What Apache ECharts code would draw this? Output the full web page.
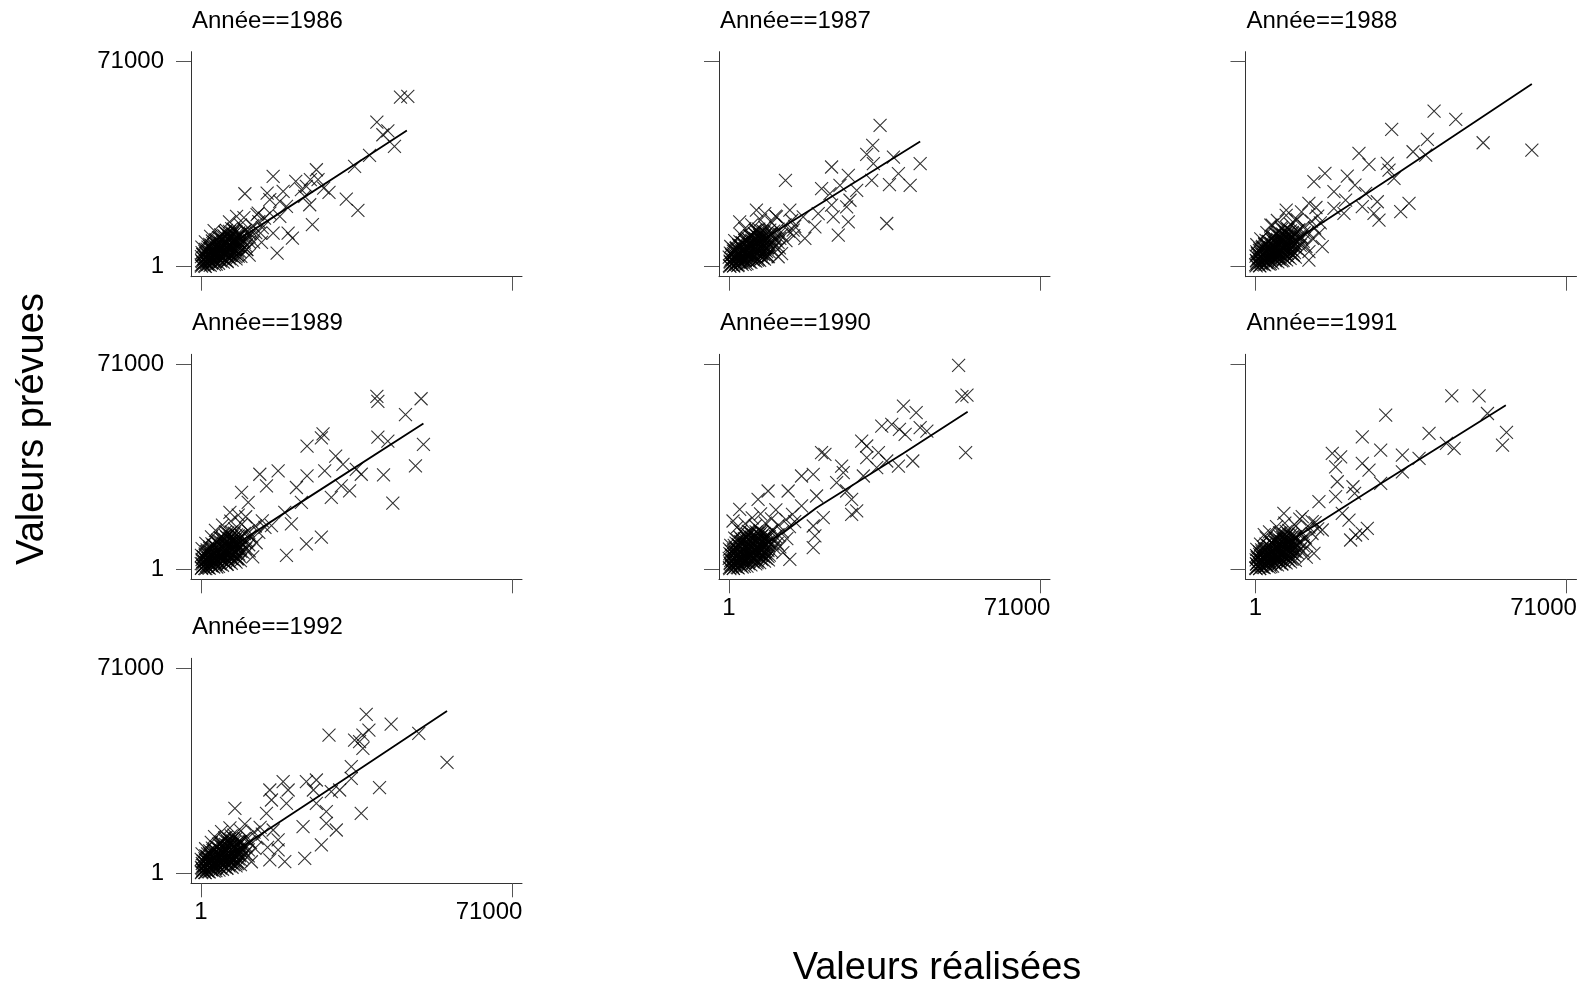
<!DOCTYPE html>
<html><head><meta charset="utf-8">
<script src="https://cdn.jsdelivr.net/npm/echarts@6/dist/echarts.min.js"></script>
<style>html,body{margin:0;padding:0;background:#fff}#c{width:1586px;height:992px}</style>
</head><body><div id="c"></div>
<script>
// ---------- data ----------
const years = [1986, 1987, 1988, 1989, 1990, 1991, 1992];
const tickValues = [1, 71000];
const tickLabels = ['1', '71000'];
const xTitle = 'Valeurs réalisées';
const yTitle = 'Valeurs prévues';

const pts1986 = [
[50,600],[150,2100],[100,3500],[250,4900],[1000,150],[1100,1700],[900,3100],[1200,4600],[1000,6000],[2100,500],[1900,1900],[2200,3400],[1800,4900],[2100,6300],[2000,7700],[3100,700],[2900,2300],[3200,3900],[2800,5300],[3100,6900],[3000,8400],[4000,1200],[4200,2700],[3900,4100],[4100,5700],[3800,7200],[4200,8700],[4000,10100],[5100,1600],[4900,3000],[5200,4600],[4800,6200],[5100,7700],[4900,9300],[5200,10800],[6000,1800],[6200,3400],[5800,5000],[6100,6500],[5900,8000],[6200,9600],[6000,11200],[5800,12600],[7100,2300],[6900,3800],[7200,5400],[6800,7000],[7100,8500],[6900,10100],[7200,11600],[7000,13200],[8000,2700],[8200,4200],[7800,5900],[8100,7500],[7900,9000],[8200,10500],[8000,12100],[9100,3600],[8900,5200],[9200,6700],[8800,8300],[9100,9800],[9000,11400],
[100,200],[400,900],[800,300],[300,1800],[1200,1400],[700,2600],[1600,700],[2000,2200],[1100,3300],[500,4200],[2400,1200],[1700,3800],[2800,2900],[900,5200],[3200,1800],[2300,4900],[3600,3600],[1400,6100],[4100,2500],[3000,5600],[4500,4300],[2000,7000],[5000,3200],[3800,6400],[5400,5000],[200,6800],[2700,8000],[5900,2000],[4700,7300],[6300,5900],[1000,8600],[3500,9000],[6800,4000],[5600,8100],[7200,6700],[4300,10000],[7700,8900],[2200,10500],[6400,10200],[8400,7200],
[8800,11000],[9600,9000],[10200,12600],[11000,10400],[11800,14200],[12500,11800],[13200,15600],[14000,13500],[9000,14500],[7500,13000],[5500,12000],[10500,6000],[12000,8500],[8000,3500],[3000,12500],[6500,15500],[9800,17000],[12800,18000],[14500,16800],[11000,4000],
[45540,58740],[47210,58970],[40150,50080],[42660,47080],[41520,45700],[44170,41660],[38480,38540],[35070,34730],[26340,33580],[24970,30120],[21630,29540],[24060,27810],[22920,26660],[16470,31270],[10020,25270],[15100,25500],[15710,23200],[18750,26080],[29220,25730],[28010,27230],[33170,23430],[35820,19500],[24820,21460],[25430,14540],[17990,22620],[20870,9920],[19890,11650],[17380,4730],[16470,11650],[17990,17430],[13590,11650],[13810,8420],[13060,18580],[11160,12810],[8120,17430],[15710,18580],[19510,20890],[23680,24350],[26720,30120],[10400,5890]
];
const dense1986 = [
[500,1300],[600,2800],[400,4200],[1500,900],[1600,2400],[1400,3900],[1500,5300],[1600,6800],[2500,1500],[2400,3000],[2600,4500],[2500,6000],[2400,7400],[2600,8900],[3500,900],[3600,2500],[3400,4900],[3500,6400],[3600,7900],[3400,9400],[4500,1900],[4400,3500],[4600,5000],[4500,6600],[4400,8100],[4600,9600],[4500,11000],[5500,2400],[5600,4000],[5400,5700],[5500,7200],[5600,8800],[5400,10300],[5500,11800],[6500,2800],[6400,4500],[6600,6100],[6500,7600],[6400,9100],[6600,10700],[6500,12200],[7500,3300],[7600,4900],[7400,6500],[7500,8000],[7600,9600],[7400,11100],[7500,12600],[8500,3700],[8400,5400],[8600,7000],[8500,8600],[8400,10100],[8600,11700],[9700,6000],[9900,8500],[10300,7200],[10500,10000],[11000,8600],[11200,11500],[10000,12500]
];
const fit1986 = [[600,1600],[15000,15700],[35000,35300],[47000,47200]];

const pts1987 = [
[100,400],[250,1900],[50,3300],[300,4700],[1100,250],[950,1600],[1200,3000],[1000,4500],[1150,5900],[2000,400],[2200,1800],[1900,3300],[2100,4800],[1800,6200],[2200,7600],[3000,800],[3200,2200],[2900,3700],[3100,5200],[2800,6700],[3200,8200],[4100,1100],[3900,2600],[4200,4000],[4000,5500],[4100,7000],[3900,8500],[4200,9900],[5000,1500],[5200,3000],[4800,4500],[5100,6000],[4900,7500],[5200,9100],[5000,10600],[6100,1900],[5900,3500],[6200,5100],[6000,6600],[5800,8100],[6100,9700],[5900,11300],[6200,12700],[7000,2200],[7200,3700],[6800,5300],[7100,6800],[6900,8400],[7200,10000],[7000,11500],[6800,13000],[8100,2600],[7900,4300],[8200,5800],[8000,7400],[7800,8900],[8100,10400],[8000,12000],[9000,3500],[9200,5100],[8800,6600],[9100,8200],[8900,9700],[9200,11300],
[200,100],[600,800],[1000,300],[300,1600],[1500,1200],[900,2500],[2100,600],[2300,2100],[1300,3400],[600,4300],[2900,1500],[1900,4000],[3100,3000],[1000,5400],[3700,2200],[2600,5000],[4000,3800],[1600,6300],[4600,2800],[3300,5800],[5000,4600],[2300,7200],[5600,3300],[4100,6700],[6000,5300],[400,7000],[3000,8300],[6500,2300],[5100,7600],[6900,6200],[1300,9000],[4000,9400],[7400,4400],[6100,8500],[7900,7000],[4800,10600],[8500,9200],[2700,11000],[7000,10800],[9200,7600],
[9700,11500],[10500,9500],[11200,13000],[12000,11000],[12800,14500],[13600,12300],[14300,16000],[9800,15200],[8200,13600],[6000,12600],[11500,6500],[13000,9000],[8800,3800],[3600,13200],[7200,16200],[10600,17500],[15000,14000],[12000,4500],[5200,14500],[14800,10800],
[34490,48920],[32810,42010],[31440,38900],[43640,35680],[37540,37980],[32960,35680],[23420,34530],[12890,29930],[27240,31650],[38680,32230],[36630,28430],[41360,28200],[32580,29930],[36010,14960],[21140,27050],[23040,25320],[25330,28200],[27620,23020],[26860,20720],[23420,21290],[23800,17270],[27240,15540],[24950,10930],[19610,13810],[17320,9780],[16940,17270],[20370,18420],[13890,19570],[10830,17270],[8160,18420],[6260,19570],[2440,15540],[11600,9780],[11220,3450],[14650,12660],[29150,26470],[9310,12660]
];
const dense1987 = [
[700,1100],[500,2600],[600,4000],[1700,800],[1500,2200],[1600,3700],[1400,5200],[1700,6600],[2700,1300],[2600,2800],[2500,4300],[2700,5800],[2600,7300],[2500,8700],[3700,800],[3500,2400],[3600,4700],[3700,6200],[3500,7700],[3600,9200],[4700,1700],[4600,3300],[4500,4800],[4700,6400],[4600,7900],[4500,9400],[4700,10800],[5700,2200],[5500,3800],[5600,5500],[5700,7000],[5500,8600],[5600,10100],[5700,11600],[6700,2600],[6600,4300],[6500,5900],[6700,7400],[6600,8900],[6500,10500],[6700,12000],[7700,3100],[7500,4700],[7600,6300],[7700,7800],[7500,9400],[7600,10900],[7700,12400],[8700,3500],[8600,5200],[8500,6800],[8700,8400],[8600,9900],[8500,11500],[9900,5800],[10100,8300],[10500,7000],[10700,9800],[11200,8400],[11400,11300],[10200,12300]
];
const fit1987 = [[500,2500],[12400,13800],[43640,43390]];

const pts1988 = [
[50,700],[200,2200],[100,3700],[300,5100],[1000,300],[1200,1800],[900,3300],[1100,4800],[1000,6200],[2100,600],[1900,2100],[2200,3600],[2000,5100],[1800,6500],[2100,8000],[3100,900],[2900,2500],[3200,4000],[3000,5500],[2800,7100],[3100,8600],[3900,1300],[4100,2800],[4000,4300],[4200,5900],[3900,7400],[4100,8900],[4000,10400],[5100,1700],[4900,3200],[5200,4800],[4900,6400],[5100,7900],[5000,9500],[5200,11000],[6000,2000],[6200,3600],[5900,5200],[6100,6700],[6000,8300],[5800,9800],[6100,11400],[6000,13000],[7100,2400],[6900,4000],[7200,5600],[7000,7100],[6800,8700],[7100,10200],[6900,11800],[7200,13400],[7900,2900],[8100,4500],[8000,6100],[8200,7700],[7900,9200],[8100,10800],[8000,12400],[9100,3300],[8900,4900],[9200,6500],[9000,8000],[8800,9600],[9100,11200],
[150,250],[500,1000],[900,400],[250,2000],[1300,1500],[800,2800],[1800,800],[2100,2400],[1200,3700],[450,4600],[2600,1300],[1800,4200],[3000,3200],[900,5600],[3400,2000],[2500,5300],[3900,4000],[1500,6600],[4400,2700],[3200,6100],[4900,4800],[2100,7600],[5300,3400],[4000,7000],[5800,5600],[300,7600],[2900,8800],[6300,2200],[5000,8000],[6800,6500],[1200,9600],[3900,10000],[7300,4600],[6000,9000],[7800,7500],[4700,11400],[8400,9900],[2600,11800],[7000,11600],[9100,8000],
[9600,12300],[10400,10300],[11100,14000],[12000,12000],[12800,15800],[13500,13400],[14200,17500],[9500,16300],[8000,14700],[5900,13600],[11500,7000],[13000,9800],[8600,4200],[3500,14400],[7000,17800],[10500,19000],[14800,15200],[12200,5200],[5000,16000],[13800,20500],
[40770,53890],[45720,51010],[31090,47540],[39240,44080],[51970,42930],[63090,40390],[35970,39810],[38860,38660],[23620,39240],[25910,35430],[30100,35770],[30480,33470],[31620,30580],[15850,32310],[13340,29430],[20960,31390],[22710,28270],[25150,25390],[17910,25970],[35050,21930],[33150,19040],[28190,16160],[27050,18460],[27810,22500],[24380,20770],[20190,18460],[15240,6920],[14480,11540],[12190,21930],[7010,19620],[9140,16160],[9910,10390],[17910,20190],[20570,23080],[12190,2310],[3810,14430]
];
const dense1988 = [
[400,1500],[600,3000],[500,4400],[1400,1000],[1600,2600],[1500,4100],[1400,5500],[1600,7000],[2600,1700],[2500,3200],[2400,4700],[2600,6200],[2500,7700],[2400,9100],[3400,1100],[3600,2700],[3500,5100],[3400,6600],[3600,8100],[3500,9600],[4600,2100],[4500,3700],[4400,5200],[4600,6800],[4500,8300],[4400,9800],[4600,11300],[5400,2600],[5600,4200],[5500,5900],[5400,7400],[5600,9000],[5500,10500],[5400,12000],[6600,3000],[6500,4700],[6400,6300],[6600,7800],[6500,9300],[6400,10900],[6600,12500],[7400,3500],[7600,5100],[7500,6700],[7400,8200],[7600,9800],[7500,11300],[7400,12900],[8600,3900],[8500,5600],[8400,7200],[8600,8800],[8500,10300],[8400,11900],[9600,6200],[9800,8700],[10200,7400],[10400,10200],[10900,8800],[11100,11700],[9900,12800]
];
const fit1988 = [[500,600],[31240,31160],[63090,63240]];

const pts1989 = [
[150,500],[50,2000],[250,3400],[100,4800],[1100,200],[900,1700],[1100,3200],[950,4700],[1200,6100],[1900,400],[2100,1900],[2000,3400],[2200,4900],[1900,6400],[2000,7800],[2900,800],[3100,2300],[3000,3800],[2900,5400],[3200,6900],[3000,8300],[4000,1000],[3800,2500],[4100,4000],[3900,5600],[4200,7100],[4000,8600],[3800,10100],[4900,1400],[5100,2900],[5000,4500],[5200,6000],[4800,7600],[5100,9100],[4900,10700],[5900,1700],[6100,3300],[6000,4900],[5800,6400],[6200,8000],[6000,9500],[5900,11100],[6100,12600],[6900,2100],[7100,3600],[7000,5200],[7200,6800],[6900,8300],[7000,9900],[7100,11400],[6900,13000],[8000,2500],[8200,4100],[7900,5600],[8100,7200],[8000,8800],[7800,10300],[8100,11900],[9000,3000],[8800,4600],[9100,6200],[9000,7700],[9200,9300],[8900,10900],
[100,300],[450,1100],[850,350],[350,1900],[1250,1300],[750,2700],[1700,600],[2100,2300],[1150,3500],[500,4400],[2500,1100],[1750,3900],[2900,2800],[950,5300],[3300,1700],[2400,5000],[3700,3500],[1450,6200],[4200,2300],[3100,5700],[4600,4200],[2000,7200],[5100,3000],[3900,6600],[5500,5100],[250,7200],[2800,8300],[6000,1800],[4800,7600],[6400,6000],[1100,9000],[3700,9500],[6900,3900],[5800,8400],[7400,7000],[4500,10800],[8000,9300],[2400,11200],[6700,11000],[8700,7500],
[9200,11600],[10000,9600],[10800,13300],[11600,11200],[12400,15000],[13200,12800],[14000,16800],[9300,15600],[7700,14000],[5600,13000],[11000,6400],[12600,9200],[8200,3600],[3300,13500],[6800,16700],[10200,18200],[14600,14500],[11800,4300],[4900,15300],[8500,18800],
[40150,59870],[40380,58150],[50250,59070],[46680,53560],[40380,45770],[42660,44390],[50780,43240],[48960,35790],[41670,32690],[43790,22940],[27860,46910],[27480,45540],[24210,42670],[30740,39230],[32410,36360],[35450,34640],[36590,32920],[28240,34070],[32030,28900],[29750,24890],[33930,27180],[24210,32350],[21780,28330],[17610,34070],[13430,32920],[14950,28900],[9260,26610],[10780,23170],[6600,19730],[22920,23170],[20640,15710],[24060,8830],[27480,11130],[19510,4820],[19130,19730],[16090,15140]
];
const dense1989 = [
[500,1200],[400,2700],[600,4100],[1500,800],[1400,2300],[1600,3800],[1500,5200],[1400,6700],[2400,1400],[2600,2900],[2500,4400],[2400,5900],[2600,7300],[2500,8800],[3600,800],[3400,2400],[3500,4800],[3600,6300],[3400,7800],[3500,9300],[4400,1800],[4600,3400],[4500,4900],[4400,6500],[4600,8000],[4500,9500],[4400,10900],[5600,2300],[5400,3900],[5500,5600],[5600,7100],[5400,8700],[5500,10200],[5600,11700],[6400,2700],[6600,4400],[6500,6000],[6400,7500],[6600,9000],[6500,10600],[6400,12100],[7600,3200],[7400,4800],[7500,6400],[7600,7900],[7400,9500],[7500,11000],[7600,12500],[8400,3600],[8600,5300],[8500,6900],[8400,8500],[8600,10000],[8500,11600],[9600,5900],[9800,8400],[10200,7100],[10400,9900],[10900,8500],[11100,11400],[9900,12400]
];
const fit1989 = [[500,1200],[23300,23700],[50780,50470]];

const pts1990 = [
[100,600],[250,2200],[50,3800],[200,5400],[100,7000],[1000,300],[1200,1900],[900,3500],[1100,5100],[1000,6700],[1200,8300],[2100,500],[1900,2100],[2200,3700],[2000,5300],[1800,6900],[2100,8500],[2000,10000],[3000,800],[3200,2400],[2900,4000],[3100,5600],[2900,7200],[3200,8800],[3000,10400],[4100,1100],[3900,2700],[4200,4300],[4000,5900],[3800,7500],[4100,9100],[4000,10700],[4200,12200],[5000,1500],[5200,3100],[4900,4700],[5100,6300],[5000,7900],[4800,9500],[5100,11100],[5000,12600],[6100,1900],[5900,3500],[6200,5100],[6000,6700],[5800,8300],[6100,9900],[6000,11500],[6200,13000],[7000,2300],[7200,3900],[6900,5500],[7100,7100],[7000,8700],[7200,10300],[6900,11900],[7100,13500],[8100,2800],[7900,4400],[8200,6000],[8000,7600],[7800,9200],[8100,10800],[8000,12400],[9000,3300],[9200,4900],[8900,6500],[9100,8100],[9000,9700],[9200,11300],
[200,200],[600,1000],[1000,300],[300,2000],[1400,1500],[800,3000],[1900,700],[2200,2500],[1300,3900],[500,5000],[2700,1300],[1900,4600],[3100,3300],[1000,6200],[3500,2100],[2600,5700],[4000,4200],[1600,7300],[4500,2800],[3300,6600],[5000,5200],[2200,8400],[5500,3500],[4200,7800],[6000,6100],[400,8300],[3000,9700],[6400,2300],[5200,9000],[6900,7200],[1300,10800],[4000,11200],[7400,4800],[6200,10200],[7900,8500],[4800,12700],[8500,11000],[2700,13200],[7100,13000],[9200,9200],
[9800,13600],[10600,11400],[11300,15300],[12200,13000],[13000,17200],[13800,14800],[14500,19000],[9700,17500],[8300,16000],[6000,15000],[11600,7800],[13200,10600],[8900,4500],[3700,15800],[7200,19200],[10700,20600],[15000,16500],[12300,5800],[5300,17800],[1800,14500],
[52420,70620],[53180,59780],[54330,60350],[54020,40390],[39830,56550],[42730,54240],[34870,49620],[37160,50200],[38910,48470],[40210,46740],[43640,49050],[45170,47890],[30290,44430],[31440,42700],[21130,40390],[21900,39810],[34110,40390],[31440,38660],[36010,37510],[41960,37510],[38680,35770],[25710,35770],[26090,33470],[16560,32310],[19230,32890],[30670,32310],[33720,35200],[24570,30000],[26860,27120],[28000,24230],[29150,20200],[28000,19040],[19990,25390],[21520,17890],[8930,27120],[13500,27120],[2440,20770],[920,16730],[6640,24230],[19230,15000],[19230,7500],[13890,3460],[19610,11540],[16560,21930]
];
const dense1990 = [
[500,1500],[400,3100],[600,4700],[500,6300],[1500,1000],[1400,2700],[1600,4300],[1500,5900],[1400,7500],[1600,9100],[2500,1600],[2400,3200],[2600,4800],[2500,6400],[2400,8000],[2600,9600],[2500,11100],[3500,1000],[3600,2600],[3400,4200],[3500,5800],[3600,7400],[3400,9000],[3500,10600],[3600,12100],[4500,2000],[4400,3600],[4600,5200],[4500,6800],[4400,8400],[4600,10000],[4500,11600],[4400,13100],[5500,2500],[5600,4100],[5400,5700],[5500,7300],[5600,8900],[5400,10500],[5500,12000],[6500,2900],[6400,4500],[6600,6100],[6500,7700],[6400,9300],[6600,10900],[6500,12400],[7500,3400],[7600,5000],[7400,6600],[7500,8200],[7600,9800],[7400,11400],[7500,12900],[8500,3800],[8400,5400],[8600,7000],[8500,8600],[8400,10200],[8600,11800],[9700,6200],[9900,8800],[10300,7500],[10500,10300],[11000,9000],[11200,12000],[10000,13300]
];
const fit1990 = [[150,1150],[12360,12690],[19990,21350],[39830,40160],[54480,54590]];

const pts1991 = [
[50,450],[200,1900],[150,3300],[250,4700],[950,250],[1100,1700],[1000,3200],[1200,4600],[900,6000],[2000,550],[2200,2000],[1900,3500],[2100,5000],[2000,6400],[1800,7700],[3100,750],[2900,2300],[3100,3800],[3000,5300],[3200,6800],[2900,8200],[3900,1100],[4100,2600],[4000,4100],[3800,5700],[4100,7200],[4000,8600],[4200,10000],[5000,1500],[4800,3000],[5100,4600],[5000,6100],[5200,7600],[4900,9200],[5100,10700],[6000,1800],[5800,3400],[6100,5000],[5900,6500],[6100,8000],[6000,9600],[6200,11100],[5900,12600],[7000,2200],[7200,3800],[6900,5400],[7100,6900],[7000,8500],[6800,10000],[7100,11600],[7000,13100],[8000,2600],[7800,4200],[8100,5800],[8000,7300],[8200,8900],[7900,10400],[8100,12000],[9100,3100],[8900,4700],[9000,6200],[9200,7800],[8900,9300],[9100,10900],
[150,200],[550,900],[950,350],[300,1800],[1300,1400],[750,2600],[1750,650],[2150,2200],[1200,3500],[500,4300],[2550,1200],[1800,4000],[2950,3000],[950,5200],[3350,1900],[2450,4800],[3800,3700],[1500,6000],[4250,2500],[3150,5500],[4650,4400],[2050,6900],[5150,3200],[3950,6400],[5550,5200],[300,6900],[2850,8000],[6000,2000],[4850,7300],[6450,6100],[1150,8700],[3750,9200],[6900,4200],[5800,8300],[7400,7100],[4550,10400],[8000,9100],[2450,10900],[6700,10700],[8600,7600],
[9100,11300],[9900,9400],[10600,12900],[11400,10900],[12200,14600],[12900,12400],[13600,16200],[9200,15000],[7600,13500],[5500,12600],[10900,6300],[12400,8900],[8100,3500],[3200,13000],[6700,16000],[10100,17400],[14200,14000],[11600,4200],[4800,14800],[2000,12000],
[44810,60070],[51050,60070],[52960,53960],[29720,53380],[57300,47390],[56390,43010],[39620,47040],[43590,43580],[45340,41850],[24380,45890],[28580,41280],[17530,40120],[19440,38970],[33530,39550],[37340,38390],[24380,36670],[25910,34360],[18290,35510],[28580,29750],[22250,28590],[18670,30320],[33530,33780],[22630,26290],[18290,25140],[14480,23410],[19810,19370],[21340,17060],[25530,14180],[22860,11880],[21720,10150],[24380,12450],[6480,19370],[12950,16490],[13340,5530],[15240,13610],[10670,18220]
];
const dense1991 = [
[500,1100],[600,2600],[400,4000],[1500,900],[1400,2400],[1600,3900],[1500,5300],[1400,6700],[2500,1400],[2600,2900],[2400,4400],[2500,5800],[2600,7200],[2400,8700],[3500,900],[3400,2500],[3600,4700],[3500,6200],[3400,7600],[3600,9100],[4500,1800],[4600,3400],[4400,4900],[4500,6500],[4600,7900],[4400,9400],[4500,10800],[5500,2300],[5400,3900],[5600,5500],[5500,7000],[5400,8500],[5600,10000],[5500,11500],[6500,2700],[6600,4300],[6400,5900],[6500,7400],[6600,8900],[6400,10400],[6500,11900],[7500,3100],[7400,4700],[7600,6300],[7500,7800],[7400,9300],[7600,10800],[7500,12300],[8500,3500],[8600,5100],[8400,6700],[8500,8200],[8600,9700],[8400,11300],[9600,5700],[9800,8100],[10200,6900],[10400,9600],[10900,8200],[11100,11000],[9900,12100]
];
const fit1991 = [[600,2700],[27430,28590],[57150,56840]];

const pts1992 = [
[200,500],[100,2000],[300,3400],[50,4800],[1000,200],[900,1700],[1200,3100],[1000,4600],[1100,6000],[1900,500],[2100,2000],[2000,3500],[1800,5000],[2100,6400],[2000,7800],[3000,800],[2800,2300],[3100,3800],[2900,5300],[3200,6800],[3000,8300],[4100,1100],[3900,2600],[4000,4100],[4200,5600],[3900,7100],[4100,8600],[4000,10100],[4900,1400],[5100,2900],[5000,4500],[4800,6000],[5100,7500],[5000,9100],[4800,10600],[5900,1700],[6100,3300],[6000,4900],[6200,6400],[5900,7900],[6100,9500],[6000,11000],[5800,12500],[7100,2100],[6900,3700],[7000,5300],[7200,6800],[6900,8400],[7100,9900],[7000,11500],[6900,13000],[8000,2600],[8200,4100],[7900,5700],[8100,7200],[8000,8800],[8200,10300],[7900,11900],[9000,3000],[9100,4600],[8800,6100],[9000,7700],[9200,9200],[8900,10800],
[100,250],[450,950],[850,300],[300,1750],[1250,1350],[700,2550],[1650,600],[2050,2150],[1100,3400],[450,4250],[2450,1100],[1700,3850],[2850,2850],[900,5100],[3250,1750],[2350,4750],[3650,3550],[1400,5900],[4100,2400],[3050,5400],[4550,4250],[1950,6800],[5050,3050],[3850,6300],[5450,5000],[250,6700],[2750,7900],[5900,1900],[4750,7200],[6350,5900],[1050,8500],[3650,9000],[6800,4000],[5700,8100],[7300,6800],[4450,10200],[7900,8900],[2350,10700],[6600,10500],[8500,7300],
[9000,11000],[9800,9200],[10500,12600],[11300,10600],[12100,14300],[12800,12100],[13500,15900],[9100,14700],[7500,13200],[5400,12300],[10800,6000],[12300,8600],[8000,3300],[3100,12700],[6600,15700],[10000,17000],[14000,13600],[11500,4000],[4700,14400],[15200,9000],
[37720,55050],[43410,51700],[38330,49620],[29220,47890],[36960,47890],[36200,45580],[35070,46160],[36960,43280],[49710,48470],[56170,38430],[34310,36930],[34310,32890],[40760,29660],[36580,20770],[26340,32310],[24060,31740],[25660,28850],[29750,28270],[31650,28850],[18750,31740],[19890,28850],[15710,28850],[16090,25390],[19510,24230],[26340,24230],[28610,21350],[28610,17310],[30890,15000],[23300,16160],[27480,9810],[23680,5190],[19130,4040],[15710,4620],[17610,11540],[16470,15000],[7740,22500],[14950,20770],[17610,8080]
];
const dense1992 = [
[400,1200],[500,2700],[600,4100],[1400,900],[1500,2400],[1600,3800],[1400,5300],[1500,6700],[2400,1400],[2500,2900],[2600,4300],[2400,5800],[2500,7200],[2600,8700],[3400,900],[3500,2400],[3600,4700],[3400,6200],[3500,7600],[3600,9100],[4400,1800],[4500,3300],[4600,4900],[4400,6400],[4500,7900],[4600,9400],[4400,10800],[5400,2200],[5500,3800],[5600,5400],[5400,6900],[5500,8500],[5600,10000],[5400,11500],[6400,2600],[6500,4200],[6600,5800],[6400,7300],[6500,8800],[6600,10300],[6400,11800],[7400,3000],[7500,4600],[7600,6200],[7400,7700],[7500,9200],[7600,10700],[7400,12200],[8400,3400],[8500,5000],[8600,6600],[8400,8100],[8500,9600],[8600,11100],[9500,5600],[9700,8000],[10100,6800],[10300,9500],[10800,8100],[11000,10900],[9800,12000]
];
const fit1992 = [[500,400],[25580,25390],[56170,56200]];

const panelPoints = [
  pts1986.concat(dense1986), pts1987.concat(dense1987), pts1988.concat(dense1988),
  pts1989.concat(dense1989), pts1990.concat(dense1990), pts1991.concat(dense1991),
  pts1992.concat(dense1992)
];
const panelFits = [fit1986, fit1987, fit1988, fit1989, fit1990, fit1991, fit1992];

// ---------- layout ----------
const FONT = "'Liberation Sans', Arial, sans-serif";
const colLeft = [191, 719, 1245.5];
const rowTop = [51.7, 354.3, 658.3];
const gridW = 331, gridH = 225;
const xMin = -2282, xMax = 73283, yMin = -3462, yMax = 74463;

const grids = [], xAxes = [], yAxes = [], series = [], graphics = [];
years.forEach((yr, i) => {
  const r = Math.floor(i / 3), c = i % 3;
  const left = colLeft[c], top = rowTop[r];
  const leftCol = c === 0;
  const bottomRow = (i >= 4);
  grids.push({left: left, top: top, width: gridW, height: gridH, containLabel: false, outerBoundsMode: 'none'});
  xAxes.push({
    type: 'value', gridIndex: i, min: xMin, max: xMax,
    axisLine: {show: true, onZero: false, lineStyle: {color: '#333', width: 1}},
    axisTick: {show: true, customValues: tickValues, length: 14, lineStyle: {color: '#555', width: 1}},
    axisLabel: {
      show: bottomRow, customValues: tickValues, margin: 17, color: '#000', fontSize: 24, fontFamily: FONT,
      formatter: v => { const s = tickLabels[tickValues.indexOf(v)]; return v === 71000 ? '{r|' + s + '}' : s; },
      rich: {r: {fontSize: 24, fontFamily: FONT, color: '#000', padding: [0, 46, 0, 0]}}
    },
    splitLine: {show: false}
  });
  yAxes.push({
    type: 'value', gridIndex: i, min: yMin, max: yMax,
    axisLine: {show: true, onZero: false, lineStyle: {color: '#333', width: 1}},
    axisTick: {show: true, customValues: tickValues, length: 15, lineStyle: {color: '#555', width: 1}},
    axisLabel: {
      show: leftCol, customValues: tickValues, margin: 27, color: '#000', fontSize: 24, fontFamily: FONT,
      formatter: v => tickLabels[tickValues.indexOf(v)]
    },
    splitLine: {show: false}
  });
  series.push({
    type: 'scatter', xAxisIndex: i, yAxisIndex: i, data: panelPoints[i],
    symbol: 'path://M0 0L10 10M10 0L0 10', symbolSize: 13,
    itemStyle: {color: 'rgba(0,0,0,0)', borderColor: '#000', borderWidth: 1.1},
    silent: true, animation: false, z: 2
  });
  series.push({
    type: 'line', xAxisIndex: i, yAxisIndex: i, data: panelFits[i],
    showSymbol: false, symbol: 'none', lineStyle: {color: '#000', width: 1.8},
    silent: true, animation: false, z: 3
  });
  graphics.push({
    type: 'text', x: left + 1, y: top - 30.7,
    style: {text: 'Année==' + yr, fontSize: 24, fontFamily: FONT, fill: '#000', align: 'left', verticalAlign: 'middle'}
  });
});
graphics.push({
  type: 'text', x: 33, y: 429, rotation: Math.PI / 2,
  style: {text: yTitle, fontSize: 38, fontFamily: FONT, fill: '#000', align: 'center', verticalAlign: 'middle'}
});
graphics.push({
  type: 'text', x: 937, y: 969,
  style: {text: xTitle, fontSize: 38, fontFamily: FONT, fill: '#000', align: 'center', verticalAlign: 'middle'}
});

const chart = echarts.init(document.getElementById('c'), null, {renderer: 'canvas'});
chart.setOption({
  animation: false,
  backgroundColor: '#fff',
  grid: grids, xAxis: xAxes, yAxis: yAxes, series: series,
  graphic: graphics
});
</script></body></html>
